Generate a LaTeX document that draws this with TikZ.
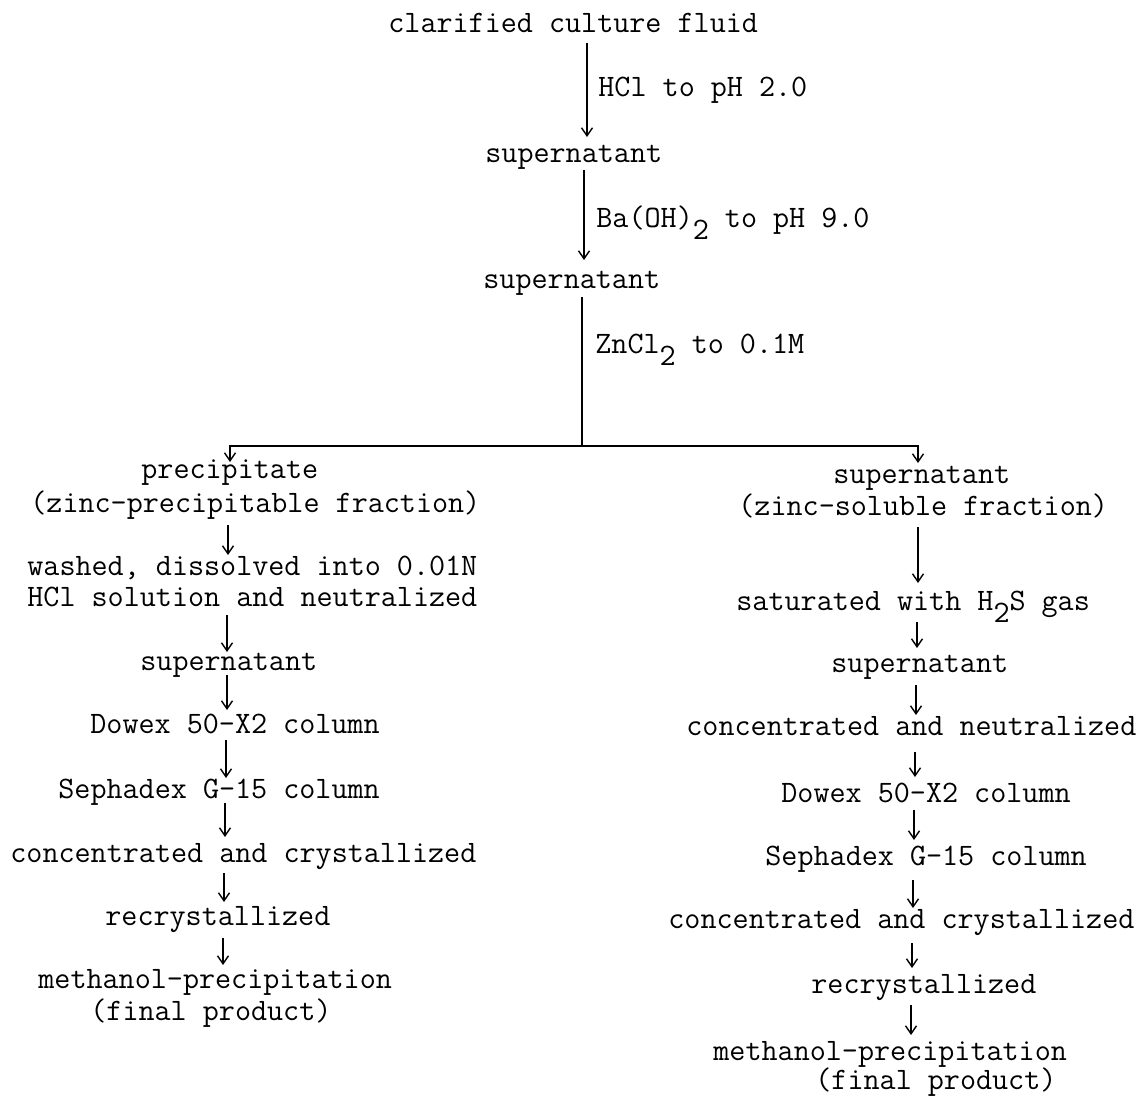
\documentclass[tikz,border=0pt]{standalone}
\usepackage{fontspec}
\usetikzlibrary{arrows.meta,calc}
% typewriter-style lowered subscript digit
\newcommand\dropsub[1]{\raisebox{-0.4em}{#1}}
\begin{document}
\begin{tikzpicture}[x=0.5pt,y=-0.5pt,
  txt/.style={anchor=base west,inner sep=0pt,
    font=\ttfamily\fontsize{15.6pt}{18pt}\selectfont},
  flow/.style={line width=0.7pt,
    -{Straight Barb[length=4pt,width=5.5pt,line width=0.7pt]}},
  link/.style={line width=0.7pt}]
\useasboundingbox (0,0) rectangle (1138,1097);

% main stem
\node[txt] (top)  at (388,33)  {clarified culture fluid};
\node[txt] (hcl)  at (598,97)  {HCl to pH 2.0};
\node[txt] (sup1) at (485,162) {supernatant};
\node[txt] (baoh) at (596,227) {Ba(OH)\dropsub{2} to pH 9.0};
\node[txt] (sup2) at (483,288) {supernatant};
\node[txt] (zn)   at (595,353) {ZnCl\dropsub{2} to 0.1M};

% zinc-precipitable branch
\node[txt] (prec)  at (141,478) {precipitate};
\node[txt] (precf) at (30,512)  {(zinc-precipitable fraction)};
\node[txt] (wash1) at (27,575)  {washed, dissolved into 0.01N};
\node[txt] (wash2) at (27,606)  {HCl solution and neutralized};
\node[txt] (lsup)  at (140,670) {supernatant};
\node[txt] (ldow)  at (90,733)  {Dowex 50-X2 column};
\node[txt] (lsep)  at (58,798)  {Sephadex G-15 column};
\node[txt] (lcc)   at (10,862)  {concentrated and crystallized};
\node[txt] (lrec)  at (105,925) {recrystallized};
\node[txt] (lmeth) at (38,988)  {methanol-precipitation};
\node[txt] (lfin)  at (90,1020) {(final product)};

% zinc-soluble branch
\node[txt] (zsup)  at (833,483) {supernatant};
\node[txt] (zsupf) at (738,515) {(zinc-soluble fraction)};
\node[txt] (h2s)   at (736,610) {saturated with H\dropsub{2}S gas};
\node[txt] (rsup)  at (831,672) {supernatant};
\node[txt] (rcn)   at (686,735) {concentrated and neutralized};
\node[txt] (rdow)  at (781,802) {Dowex 50-X2 column};
\node[txt] (rsep)  at (765,865) {Sephadex G-15 column};
\node[txt] (rcc)   at (668,928) {concentrated and crystallized};
\node[txt] (rrec)  at (811,993) {recrystallized};
\node[txt] (rmeth) at (713,1060) {methanol-precipitation};
\node[txt] (rfin)  at (815,1089) {(final product)};

% stem connectors
\draw[flow] ($(top.base -| 587,0)+(0,10)$) -- ($(sup1.base -| 587,0)+(0,-25)$);
\draw[flow] ($(sup1.base -| 584,0)+(0,8)$) -- ($(sup2.base -| 584,0)+(0,-28)$);
\coordinate (split) at (582,446);
\draw[link] ($(sup2.base -| split)+(0,9)$) -- (split);
\draw[flow] (split) -- (split -| 230,0) -- ($(prec.base -| 230,0)+(0,-16)$);
\draw[flow] (split) -- (split -| 918,0) -- ($(zsup.base -| 918,0)+(0,-20)$);

% left column connectors
\draw[flow] ($(precf.base -| 228,0)+(0,13)$) -- ($(wash1.base -| 228,0)+(0,-20)$);
\draw[flow] ($(wash2.base -| 227,0)+(0,9)$)  -- ($(lsup.base -| 227,0)+(0,-18)$);
\draw[flow] ($(lsup.base -| 227,0)+(0,5)$)   -- ($(ldow.base -| 227,0)+(0,-23)$);
\draw[flow] ($(ldow.base -| 226,0)+(0,7)$)   -- ($(lsep.base -| 226,0)+(0,-20)$);
\draw[flow] ($(lsep.base -| 225,0)+(0,5)$)   -- ($(lcc.base -| 225,0)+(0,-25)$);
\draw[flow] ($(lcc.base -| 224,0)+(0,11)$)   -- ($(lrec.base -| 224,0)+(0,-23)$);
\draw[flow] ($(lrec.base -| 223,0)+(0,13)$)  -- ($(lmeth.base -| 223,0)+(0,-23)$);

% right column connectors
\draw[flow] ($(zsupf.base -| 918,0)+(0,12)$) -- ($(h2s.base -| 918,0)+(0,-27)$);
\draw[flow] ($(h2s.base -| 917,0)+(0,12)$)   -- ($(rsup.base -| 917,0)+(0,-24)$);
\draw[flow] ($(rsup.base -| 916,0)+(0,13)$)  -- ($(rcn.base -| 916,0)+(0,-20)$);
\draw[flow] ($(rcn.base -| 915,0)+(0,17)$)   -- ($(rdow.base -| 915,0)+(0,-25)$);
\draw[flow] ($(rdow.base -| 914,0)+(0,8)$)   -- ($(rsep.base -| 914,0)+(0,-25)$);
\draw[flow] ($(rsep.base -| 913,0)+(0,15)$)  -- ($(rcc.base -| 913,0)+(0,-20)$);
\draw[flow] ($(rcc.base -| 912,0)+(0,15)$)   -- ($(rrec.base -| 912,0)+(0,-25)$);
\draw[flow] ($(rrec.base -| 911,0)+(0,12)$)  -- ($(rmeth.base -| 911,0)+(0,-25)$);
\end{tikzpicture}
\end{document}
